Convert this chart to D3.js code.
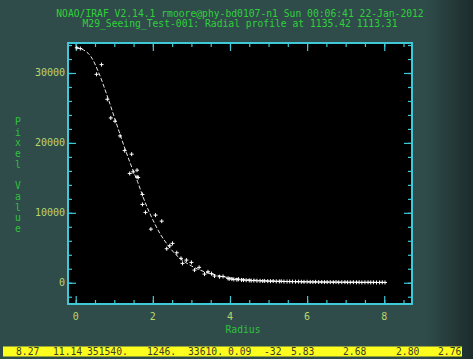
<!DOCTYPE html>
<html>
<head>
<meta charset="utf-8">
<script src="https://cdn.jsdelivr.net/npm/d3@7"></script>
<style>
  html, body { margin: 0; padding: 0; background: #2f4d4b; }
  svg { display: block; }
</style>
</head>
<body>
<div id="chart"></div>
<script>
// title lines and status bar
const titleLines = [
    "NOAO/IRAF V2.14.1 rmoore@phy-bd0107-n1 Sun 00:06:41 22-Jan-2012",
    "M29_Seeing_Test-001: Radial profile at 1135.42 1113.31"
]
const statusFields = ["8.27", "11.14", "351540.", "1246.", "33610.", "0.09", "-32", "5.83", "2.68", "2.80", "2.76"]
const statusX = [16, 53, 87, 147, 188, 228, 264, 291, 343, 396, 438]

const xTicks = [0, 2, 4, 6, 8]
const yTicks = [0, 10000, 20000, 30000]

// fitted profile
const fitRadius = [0, 0.2, 0.4, 0.6, 0.8, 1.0, 1.2, 1.4, 1.6, 1.8, 2.0, 2.2, 2.4, 2.6, 2.8, 3.0, 3.3, 3.6, 4.0, 4.5, 5.0, 5.5, 6.0, 6.5, 7.0, 7.5, 8.0]
const fitValue = [33610, 33300, 32300, 30000, 27000, 23700, 20400, 17300, 14500, 11500, 9000, 6900, 5300, 4000, 3100, 2400, 1650, 1150, 700, 430, 270, 180, 120, 90, 70, 55, 45]

// measured pixels
const pixRadius = [0.03, 0.12, 0.54, 0.67, 0.82, 0.91, 1.02, 1.15, 1.27, 1.40, 1.45, 1.49, 1.59, 1.59, 1.62, 1.73, 1.73, 1.81, 1.95, 2.07, 2.23, 2.36, 2.44, 2.51, 2.62, 2.73, 2.77, 2.87, 3.00, 3.08, 3.2, 3.34, 3.43, 3.52, 3.60, 3.73, 3.82, 3.95,
    3.98, 4.05, 4.1, 4.18, 4.22, 4.3, 4.35, 4.42, 4.5, 4.55, 4.62, 4.7, 4.78, 4.85, 4.9, 4.98, 5.05, 5.12, 5.2, 5.28, 5.33, 5.4, 5.48, 5.55, 5.62, 5.7, 5.78, 5.85, 5.92, 6.0, 6.08, 6.15, 6.22, 6.3, 6.38, 6.45, 6.52, 6.6, 6.68, 6.75, 6.82, 6.9, 6.98, 7.05, 7.12, 7.2, 7.28, 7.35, 7.42, 7.5, 7.58, 7.65, 7.72, 7.8, 7.88, 7.95, 8.02]
const pixValue = [33600, 33500, 29810, 31200, 26240, 23570, 23100, 21000, 18900, 15630, 18390, 15860, 16100, 15140, 15060, 12630, 11200, 10060, 7670, 9670, 8810, 4860, 5290, 5630, 4290, 3490, 2770, 3240, 2910, 1810, 2200, 1240, 1570, 1300, 960, 860, 900, 630,
    560, 520, 480, 430, 500, 400, 380, 360, 340, 300, 310, 280, 270, 250, 260, 230, 220, 240, 200, 190, 210, 180, 170, 180, 160, 150, 160, 140, 130, 140, 120, 110, 130, 100, 110, 90, 100, 90, 80, 100, 70, 80, 90, 70, 60, 80, 60, 70, 50, 60, 70, 50, 60, 40, 50, 60, 40]

const W = 473, H = 359
const box = {left: 68, top: 43, right: 412, bottom: 304}
const cyan = "#3ec8d8"
const mono = "'DejaVu Sans Mono', 'Liberation Mono', monospace"

const svg = d3.select("#chart").append("svg")
    .attr("width", W).attr("height", H)

const grad = svg.append("defs").append("linearGradient").attr("id", "bg")
    .attr("x1", "0").attr("x2", "1").attr("y1", "0").attr("y2", "0")
grad.append("stop").attr("offset", "0").attr("stop-color", "#2f4c4a")
grad.append("stop").attr("offset", "0.9").attr("stop-color", "#2f4c4a")
grad.append("stop").attr("offset", "1").attr("stop-color", "#1c2c2c")

svg.append("rect").attr("width", W).attr("height", H).attr("fill", "url(#bg)")

const x = d3.scaleLinear().domain([-0.2, 8.72]).range([box.left, box.right])
const y = d3.scaleLinear().domain([-3040, 34290]).range([box.bottom, box.top])

svg.append("rect")
    .attr("x", box.left).attr("y", box.top)
    .attr("width", box.right - box.left).attr("height", box.bottom - box.top)
    .attr("fill", "#000")

// axes: ticks pointing inward on all four sides
const xMinor = d3.range(0, 8.6, 0.5)
const yMinor = d3.range(-2000, 34001, 2000)

function tickLines(g, axis) {
    g.call(axis)
    g.select(".domain").remove()
    g.selectAll("line").attr("stroke", cyan).attr("stroke-width", 1.2)
    g.selectAll("text").remove()
}
svg.append("g").attr("transform", `translate(0,${box.bottom})`)
    .call(g => tickLines(g, d3.axisTop(x).tickValues(xMinor).tickSize(4)))
svg.append("g").attr("transform", `translate(0,${box.bottom})`)
    .call(g => tickLines(g, d3.axisTop(x).tickValues(xTicks).tickSize(8)))
svg.append("g").attr("transform", `translate(0,${box.top})`)
    .call(g => tickLines(g, d3.axisBottom(x).tickValues(xMinor).tickSize(4)))
svg.append("g").attr("transform", `translate(0,${box.top})`)
    .call(g => tickLines(g, d3.axisBottom(x).tickValues(xTicks).tickSize(8)))
svg.append("g").attr("transform", `translate(${box.left},0)`)
    .call(g => tickLines(g, d3.axisRight(y).tickValues(yMinor).tickSize(4)))
svg.append("g").attr("transform", `translate(${box.left},0)`)
    .call(g => tickLines(g, d3.axisRight(y).tickValues(yTicks).tickSize(8)))
svg.append("g").attr("transform", `translate(${box.right},0)`)
    .call(g => tickLines(g, d3.axisLeft(y).tickValues(yMinor).tickSize(4)))
svg.append("g").attr("transform", `translate(${box.right},0)`)
    .call(g => tickLines(g, d3.axisLeft(y).tickValues(yTicks).tickSize(8)))

svg.append("rect")
    .attr("x", box.left).attr("y", box.top)
    .attr("width", box.right - box.left).attr("height", box.bottom - box.top)
    .attr("fill", "none").attr("stroke", cyan).attr("stroke-width", 2)

// tick labels
svg.append("g").selectAll("text").data(xTicks).join("text")
    .attr("x", d => x(d)).attr("y", 320)
    .attr("text-anchor", "middle")
    .attr("font-family", mono).attr("font-size", 10)
    .attr("fill", "#bcd46a")
    .text(d => d)
svg.append("g").selectAll("text").data(yTicks).join("text")
    .attr("x", 65).attr("y", d => y(d) + 3.5)
    .attr("text-anchor", "end")
    .attr("font-family", mono).attr("font-size", 10)
    .attr("fill", "#bcd46a")
    .text(d => d)

// axis labels
svg.append("text")
    .attr("x", 243).attr("y", 333)
    .attr("text-anchor", "middle")
    .attr("font-family", mono).attr("font-size", 9.7)
    .attr("fill", "#2fc23a")
    .text("Radius")
svg.append("g").selectAll("text").data("Pixel Value".split("")).join("text")
    .attr("x", 18).attr("y", (d, i) => 125 + i * 10.7)
    .attr("text-anchor", "middle")
    .attr("font-family", mono).attr("font-size", 9.7)
    .attr("fill", "#2fc23a")
    .text(d => d)

// title
svg.append("g").selectAll("text").data(titleLines).join("text")
    .attr("x", 240).attr("y", (d, i) => 17 + i * 10)
    .attr("text-anchor", "middle")
    .attr("font-family", mono).attr("font-size", 9.7)
    .attr("fill", "#2fd03a")
    .text(d => d)

// fitted curve
const fit = fitRadius.map((r, i) => [r, fitValue[i]])
svg.append("path")
    .datum(fit)
    .attr("d", d3.line().x(d => x(d[0])).y(d => y(d[1])).curve(d3.curveMonotoneX))
    .attr("fill", "none")
    .attr("stroke", "#e8e8e8")
    .attr("stroke-width", 1)
    .attr("stroke-dasharray", "4,2")

// measured points as small crosses
const pts = pixRadius.map((r, i) => [r, pixValue[i]])
svg.append("g").selectAll("path").data(pts).join("path")
    .attr("d", d => {
        const px = x(d[0]), py = y(d[1])
        return `M${px - 2},${py}H${px + 2}M${px},${py - 2}V${py + 2}`
    })
    .attr("stroke", "#fff")
    .attr("stroke-width", 1)

// status bar
svg.append("rect")
    .attr("x", 3).attr("y", 346.5).attr("width", 459).attr("height", 10)
    .attr("fill", "#fefe1e")
svg.append("g").selectAll("text").data(statusFields).join("text")
    .attr("x", (d, i) => statusX[i]).attr("y", 355)
    .attr("font-family", mono).attr("font-size", 9.7)
    .attr("fill", "#3c3c2c")
    .text(d => d)
</script>
</body>
</html>
